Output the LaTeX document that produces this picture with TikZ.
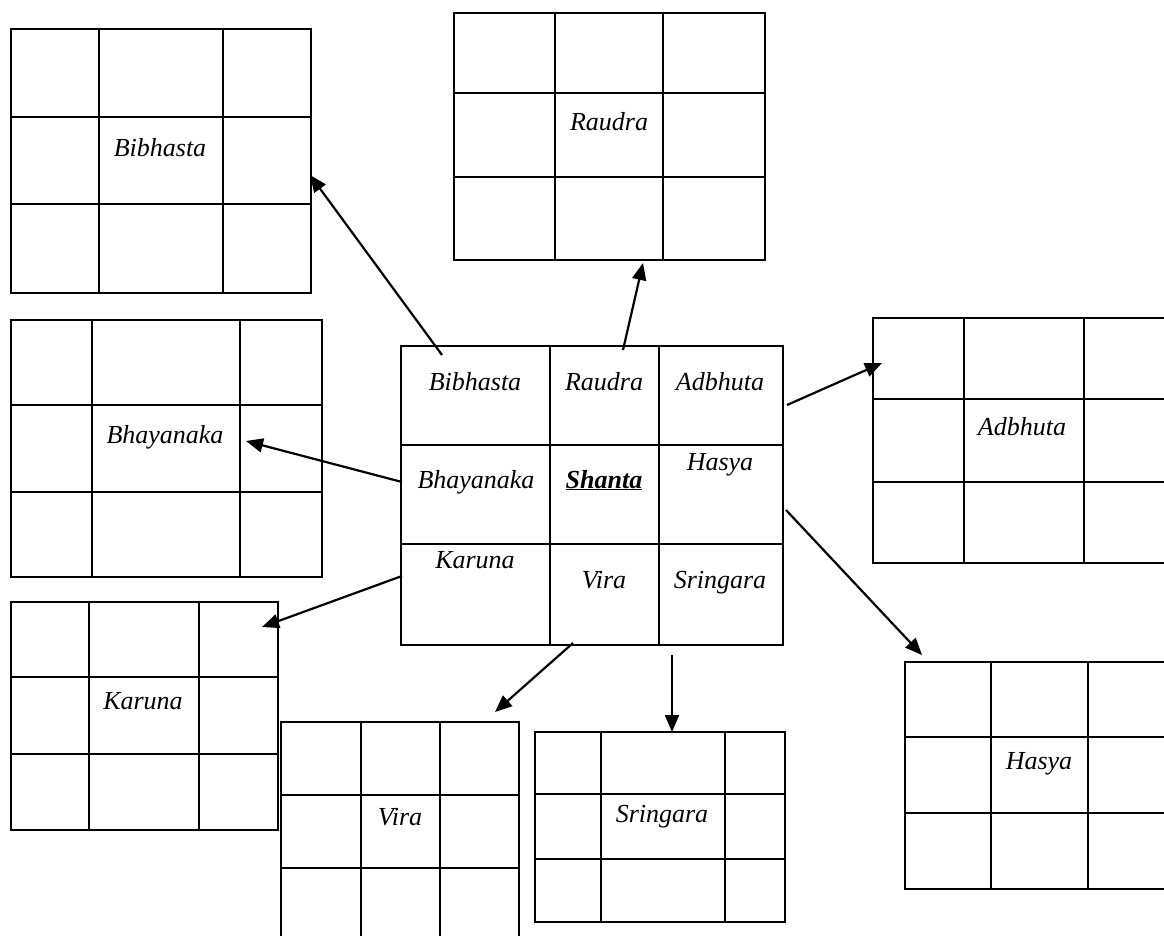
\documentclass[tikz,border=0pt]{standalone}
\usepackage{fontspec}
\setmainfont{Liberation Serif}
\usetikzlibrary{arrows.meta}
\newcommand{\ninegrid}[9]{%
  \draw[gridline] (#2,#6) rectangle (#5,#9);
  \draw[gridline] (#3,#6) -- (#3,#9) (#4,#6) -- (#4,#9) (#2,#7) -- (#5,#7) (#2,#8) -- (#5,#8);
  \coordinate (#1) at (#2,#6);}
\begin{document}
\begin{tikzpicture}[x=1pt,y=-1pt,
  gridline/.style={line width=2.2pt, line cap=rect},
  lbl/.style={inner sep=0pt, anchor=base, font=\fontsize{26}{30}\selectfont\itshape},
  arr/.style={line width=2.2pt, -{Triangle[length=17pt,width=14pt]}}]
\useasboundingbox (0,0) rectangle (1164,935);
\clip (0,0) rectangle (1164,935);
% grids
\ninegrid{gCenter}{401}{550}{659}{783}{346}{445}{544}{645}
\ninegrid{gBib}{11}{99}{223}{311}{29}{117}{204}{293}
\ninegrid{gRau}{454}{555}{663}{765}{13}{93}{177}{260}
\ninegrid{gAdb}{873}{964}{1084}{1200}{318}{399}{482}{563}
\ninegrid{gBha}{11}{92}{240}{322}{320}{405}{492}{577}
\ninegrid{gKar}{11}{89}{199}{278}{602}{677}{754}{830}
\ninegrid{gVir}{281}{361}{440}{519}{722}{795}{868}{960}
\ninegrid{gSri}{535}{601}{725}{785}{732}{794}{859}{922}
\ninegrid{gHas}{905}{991}{1088}{1200}{662}{737}{813}{889}
% central labels
\node[lbl] (cBib) at (475,390) {Bibhasta};
\node[lbl] (cRau) at (604,390) {Raudra};
\node[lbl] (cAdb) at (720,390) {Adbhuta};
\node[lbl] (cBha) at (476,488) {Bhayanaka};
\node[lbl] (cSha) at (604,488) {\bfseries\underline{Shanta}};
\node[lbl] (cHas) at (720,470) {Hasya};
\node[lbl] (cKar) at (475,568) {Karuna};
\node[lbl] (cVir) at (604,588) {Vira};
\node[lbl] (cSri) at (720,588) {Sringara};
% outer labels
\node[lbl] (oBib) at (160,156) {Bibhasta};
\node[lbl] (oRau) at (609,130) {Raudra};
\node[lbl] (oAdb) at (1022,435) {Adbhuta};
\node[lbl] (oBha) at (165,443) {Bhayanaka};
\node[lbl] (oKar) at (143,709) {Karuna};
\node[lbl] (oVir) at (400,825) {Vira};
\node[lbl] (oSri) at (662,822) {Sringara};
\node[lbl] (oHas) at (1039,769) {Hasya};
% arrow end points
\coordinate (sBib) at (442,355); \coordinate (tBib) at (310,175);
\coordinate (sRau) at (623,350); \coordinate (tRau) at (643,263);
\coordinate (sAdb) at (787,405); \coordinate (tAdb) at (882,363);
\coordinate (sBha) at (402,482); \coordinate (tBha) at (246,441);
\coordinate (sHas) at (786,510); \coordinate (tHas) at (922,655);
\coordinate (sKar) at (402,576); \coordinate (tKar) at (262,627);
\coordinate (sVir) at (573,643); \coordinate (tVir) at (495,712);
\coordinate (sSri) at (672,655); \coordinate (tSri) at (672,732);
\draw[arr] (sBib) -- (tBib);
\draw[arr] (sRau) -- (tRau);
\draw[arr] (sAdb) -- (tAdb);
\draw[arr] (sBha) -- (tBha);
\draw[arr] (sHas) -- (tHas);
\draw[arr] (sKar) -- (tKar);
\draw[arr] (sVir) -- (tVir);
\draw[arr] (sSri) -- (tSri);
\end{tikzpicture}
\end{document}
